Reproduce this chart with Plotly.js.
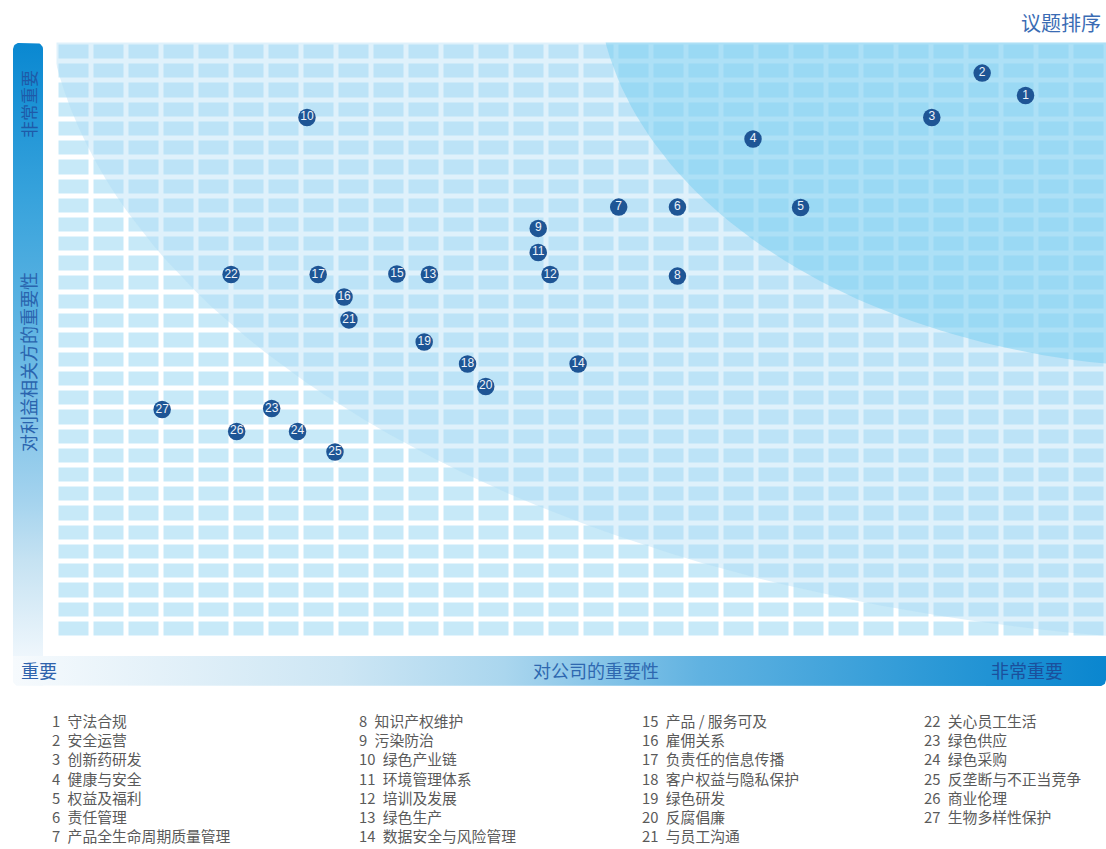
<!DOCTYPE html>
<html>
<head>
<meta charset="utf-8">
<script src="https://cdn.plot.ly/plotly-3.0.1.min.js"></script>
<style>
html,body{margin:0;padding:0;background:#ffffff;}
#chart{width:1106px;height:849px;}
</style>
</head>
<body>
<div id="chart"></div>
<script>
// ---------------- data ----------------
const issueIds = [1,2,3,4,5,6,7,8,9,10,11,12,13,14,15,16,17,18,19,20,21,22,23,24,25,26,27];
const issueNames = [
  '守法合规','安全运营','创新药研发','健康与安全','权益及福利','责任管理','产品全生命周期质量管理',
  '知识产权维护','污染防治','绿色产业链','环境管理体系','培训及发展','绿色生产','数据安全与风险管理',
  '产品 / 服务可及','雇佣关系','负责任的信息传播','客户权益与隐私保护','绿色研发','反腐倡廉','与员工沟通',
  '关心员工生活','绿色供应','绿色采购','反垄断与不正当竞争','商业伦理','生物多样性保护'
];
// importance to the company (x, grid units 0-30)
const companyImportance = [27.70,26.46,25.02,19.91,21.27,17.75,16.07,17.75,13.77,7.16,13.77,14.11,10.66,14.91,
  9.73,8.22,7.48,11.75,10.51,12.27,8.36,4.99,6.15,6.89,7.96,5.15,3.02];
// importance to stakeholders (y, grid units 0-31)
const stakeholderImportance = [28.24,29.41,27.10,25.98,22.42,22.44,22.44,18.85,21.33,27.10,20.08,18.93,18.93,14.28,
  18.96,17.76,18.93,14.28,15.42,13.11,16.57,18.93,11.96,10.77,9.70,10.77,11.91];
const gridCols = 30;
const gridRows = 31;
const titleText = '议题排序';
const xAxisLabel = '对公司的重要性';
const yAxisLabel = '对利益相关方的重要性';
const lowLabel = '重要';
const highLabel = '非常重要';
const legendColumnStarts = [0, 7, 14, 21];

// ---------------- helpers ----------------
const W = 1106, H = 849;
const CJK = '"Noto Sans CJK SC", "Noto Sans", sans-serif';

function ellipsePts(cx, cy, rx, ry, n) {
  const xs = [], ys = [];
  for (let i = 0; i <= n; i++) {
    const t = 2 * Math.PI * i / n;
    xs.push(cx + rx * Math.cos(t));
    ys.push(cy + ry * Math.sin(t));
  }
  return {xs, ys};
}
// rounded rectangle in pixel coords (y down); r = [tl, tr, br, bl]
function roundRect(x0, y0, x1, y1, r) {
  const xs = [], ys = [];
  const corners = [
    [x0 + r[0], y0 + r[0], r[0], Math.PI, 1.5 * Math.PI],
    [x1 - r[1], y0 + r[1], r[1], 1.5 * Math.PI, 2 * Math.PI],
    [x1 - r[2], y1 - r[2], r[2], 0, 0.5 * Math.PI],
    [x0 + r[3], y1 - r[3], r[3], 0.5 * Math.PI, Math.PI]
  ];
  corners.forEach(c => {
    const steps = c[2] > 0 ? 8 : 1;
    for (let i = 0; i <= steps; i++) {
      const t = c[3] + (c[4] - c[3]) * i / steps;
      xs.push(c[0] + c[2] * Math.cos(t));
      ys.push(c[1] + c[2] * Math.sin(t));
    }
  });
  xs.push(xs[0]); ys.push(ys[0]);
  return {xs, ys};
}

// ---------------- traces ----------------
const z = [], hx = [], hy = [];
for (let c = 0; c < gridCols; c++) hx.push(c + 0.5);
for (let r = 0; r < gridRows; r++) { hy.push(r + 0.5); z.push(new Array(gridCols).fill(1)); }

const cells = {
  type: 'heatmap', x: hx, y: hy, z: z,
  colorscale: [[0, '#c7e9f8'], [1, '#c7e9f8']],
  showscale: false, xgap: 5, ygap: 5, hoverinfo: 'skip'
};

const band = ellipsePts(35.53, 34.76, 35.89, 35.05, 240);
const bandTrace = {
  type: 'scatter', mode: 'lines', x: band.xs, y: band.ys,
  fill: 'toself', fillcolor: 'rgba(171,218,244,0.38)',
  line: {width: 0, color: 'rgba(0,0,0,0)'}, hoverinfo: 'skip'
};
const core = ellipsePts(32.67, 34.50, 17.23, 20.46, 240);
const coreTrace = {
  type: 'scatter', mode: 'lines', x: core.xs, y: core.ys,
  fill: 'toself', fillcolor: 'rgba(112,203,240,0.45)',
  line: {width: 0, color: 'rgba(0,0,0,0)'}, hoverinfo: 'skip'
};

const points = {
  type: 'scatter', mode: 'markers+text',
  x: companyImportance, y: stakeholderImportance,
  text: issueIds.map(String),
  textposition: 'middle center',
  textfont: {family: 'Arial, "Liberation Sans", sans-serif', size: 12, color: '#eef3fa'},
  marker: {size: 17.5, color: '#1e5595', line: {width: 0}},
  hovertext: issueNames, hoverinfo: 'text'
};

// decoration bars (pixel coordinate subplot)
const lb = roundRect(13, 43, 43, 686, [6, 6, 0, 6]);
const leftBar = {
  type: 'scatter', mode: 'lines', xaxis: 'x2', yaxis: 'y2',
  x: lb.xs, y: lb.ys, fill: 'toself',
  line: {width: 0, color: 'rgba(0,0,0,0)'},
  fillgradient: {type: 'vertical', start: 43, stop: 686,
    colorscale: [[0, '#0a88d1'], [0.244, '#38a3dc'], [0.493, '#6ab9e4'], [0.711, '#a4d3ee'], [0.804, '#c5e2f2'], [0.952, '#eef6fc'], [1, '#f6fafd']]},
  hoverinfo: 'skip'
};
const bb = roundRect(13, 656, 1106, 686, [0, 0, 6, 6]);
const bottomBar = {
  type: 'scatter', mode: 'lines', xaxis: 'x2', yaxis: 'y2',
  x: bb.xs, y: bb.ys, fill: 'toself',
  line: {width: 0, color: 'rgba(0,0,0,0)'},
  fillgradient: {type: 'horizontal', start: 13, stop: 1106,
    colorscale: [[0, '#f6fafd'], [0.3, '#cde6f4'], [0.45, '#aad6ee'], [0.63, '#60b2e1'], [0.85, '#2a98d6'], [1, '#0a86cf']]},
  hoverinfo: 'skip'
};

// ---------------- annotations ----------------
const ann = [];
function addText(x, y, text, opts) {
  ann.push(Object.assign({
    xref: 'x2', yref: 'y2', x: x, y: y, text: text, showarrow: false,
    xanchor: 'center', yanchor: 'middle',
    font: {family: CJK, size: 18, color: '#2c66b0'}
  }, opts || {}));
}
addText(1103, 22, titleText, {xanchor: 'right', font: {family: CJK, size: 20, color: '#3a6cb4'}});
addText(28, 104, highLabel, {textangle: -90, font: {family: CJK, size: 17, color: '#1f5aa8'}});
addText(28, 362, yAxisLabel, {textangle: -90, font: {family: CJK, size: 18, color: '#2a64ae'}});
addText(19, 670, lowLabel, {xanchor: 'left', font: {family: CJK, size: 18, color: '#2e62ac'}});
addText(596, 670, xAxisLabel, {font: {family: CJK, size: 18, color: '#2e68b0'}});
addText(1027, 670, highLabel, {font: {family: CJK, size: 18, color: '#1b4f9c'}});

// legend: one multi-line text block per column
const legendX = [50, 357, 640, 922];
legendColumnStarts.forEach((start, col) => {
  const end = col + 1 < legendColumnStarts.length ? legendColumnStarts[col + 1] : issueIds.length;
  const lines = [];
  for (let i = start; i < end; i++) lines.push(issueIds[i] + '\u2002' + issueNames[i]);
  addText(legendX[col], 708, lines.join('<br>'), {
    xanchor: 'left', yanchor: 'top', align: 'left',
    font: {family: CJK, size: 14.8, color: '#5a5a5a'}
  });
});

// ---------------- layout ----------------
const hidden = {showgrid: false, zeroline: false, showticklabels: false, ticks: '', showline: false, fixedrange: true};
const layout = {
  width: W, height: H,
  margin: {l: 0, r: 0, t: 0, b: 0},
  paper_bgcolor: '#ffffff', plot_bgcolor: 'rgba(0,0,0,0)',
  showlegend: false,
  xaxis: Object.assign({domain: [56.5 / W, 1], range: [0, gridCols], anchor: 'y'}, hidden),
  yaxis: Object.assign({domain: [(H - 638.5) / H, (H - 42.5) / H], range: [0, gridRows], anchor: 'x'}, hidden),
  xaxis2: Object.assign({domain: [0, 1], range: [0, W], anchor: 'y2'}, hidden),
  yaxis2: Object.assign({domain: [0, 1], range: [H, 0], anchor: 'x2'}, hidden),
  annotations: ann
};

Plotly.newPlot('chart', [cells, bandTrace, coreTrace, points, leftBar, bottomBar], layout,
  {displayModeBar: false, staticPlot: true});
</script>
</body>
</html>
